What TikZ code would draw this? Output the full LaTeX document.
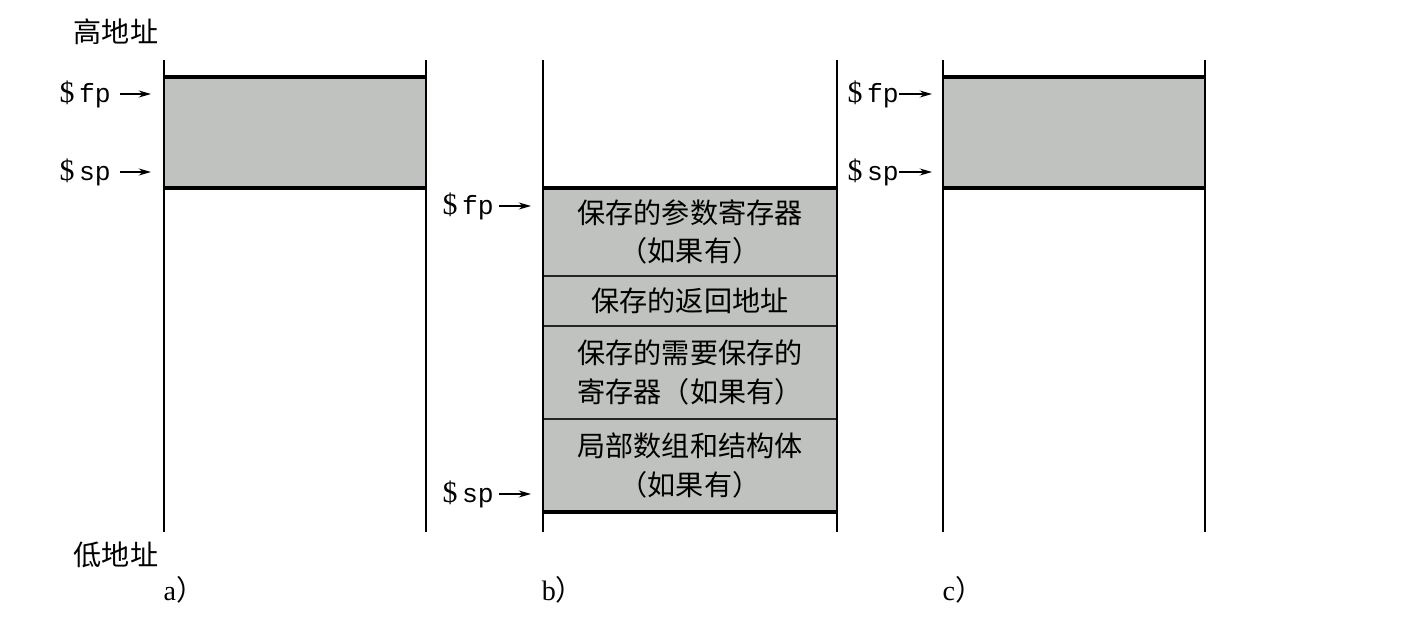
\documentclass[tikz,border=0pt]{standalone}
\usepackage{fontspec}
\setmainfont{Liberation Serif}
\setmonofont{Liberation Mono}
\newfontfamily\cjk{Noto Sans CJK SC}
\usetikzlibrary{positioning,arrows.meta}
\definecolor{stackgray}{HTML}{C0C2BF}

\begin{document}
\begin{tikzpicture}[x=0.02cm, y=-0.02cm,
		cellnode/.style={rectangle, draw=black!85, line width=0.8pt, fill=stackgray, minimum width=5.88cm, inner sep=0pt, outer sep=0pt, align=center, font=\cjk\fontsize{16}{22}\selectfont},
		framenode/.style={rectangle, fill=stackgray, minimum width=5.24cm, minimum height=2.22cm, inner sep=0pt, outer sep=0pt},
		ptrnode/.style={anchor=east, inner sep=0pt, font=\fontsize{15}{18}\selectfont},
		textnode/.style={inner sep=0pt, font=\cjk\fontsize{16}{18}\selectfont},
		ptr/.style={-{Stealth[length=7pt, width=4pt]}, line width=0.8pt},
		wall/.style={line width=0.8pt},
		edge/.style={line width=2pt},
	]
		\useasboundingbox (0,0) rectangle (1408,628);

		% a)
		\node[framenode] (topA) at (295,132.5) {};
		\draw[wall] (164,60) -- (164,532);
		\draw[wall] (426,60) -- (426,532);
		\draw[edge] (topA.north west) -- (topA.north east);
		\draw[edge] (topA.south west) -- (topA.south east);
		\node[ptrnode] (fpA) at (111,94) {{\fontsize{17}{18}\selectfont\$}\,\texttt{fp}};
		\node[ptrnode] (spA) at (111,172) {{\fontsize{17}{18}\selectfont\$}\,\texttt{sp}};
		\coordinate (fpAtip) at (151,94);
		\coordinate (spAtip) at (151,172);
		\draw[ptr] ([xshift=5pt]fpA.east) -- (fpAtip);
		\draw[ptr] ([xshift=5pt]spA.east) -- (spAtip);
		\node[textnode] (high) at (116,32) {高地址};
		\node[textnode] (low) at (116,555) {低地址};
		\node[textnode] (capA) at (184,590) {{\rmfamily a}）};

		% b)
		\node[cellnode, minimum height=1.76cm] (args) at (690,232) {保存的参数寄存器\\（如果有）};
		\node[cellnode, minimum height=1.00cm] (ret) [below=0pt of args] {保存的返回地址};
		\node[cellnode, minimum height=1.86cm] (saved) [below=0pt of ret] {保存的需要保存的\\寄存器（如果有）};
		\node[cellnode, minimum height=1.86cm] (local) [below=0pt of saved] {局部数组和结构体\\（如果有）};
		\draw[wall] (543,60) -- (543,532);
		\draw[wall] (837,60) -- (837,532);
		\draw[edge] (args.north west) -- (args.north east);
		\draw[edge] (local.south west) -- (local.south east);
		\node[ptrnode] (fpB) at (494,206) {{\fontsize{17}{18}\selectfont\$}\,\texttt{fp}};
		\node[ptrnode] (spB) at (494,494) {{\fontsize{17}{18}\selectfont\$}\,\texttt{sp}};
		\coordinate (fpBtip) at (531,206);
		\coordinate (spBtip) at (531,494);
		\draw[ptr] ([xshift=3pt]fpB.east) -- (fpBtip);
		\draw[ptr] ([xshift=3pt]spB.east) -- (spBtip);
		\node[textnode] (capB) at (563,590) {{\rmfamily b}）};

		% c)
		\node[framenode] (topC) at (1074,132.5) {};
		\draw[wall] (943,60) -- (943,532);
		\draw[wall] (1205,60) -- (1205,532);
		\draw[edge] (topC.north west) -- (topC.north east);
		\draw[edge] (topC.south west) -- (topC.south east);
		\node[ptrnode] (fpC) at (899,94) {{\fontsize{17}{18}\selectfont\$}\,\texttt{fp}};
		\node[ptrnode] (spC) at (899,172) {{\fontsize{17}{18}\selectfont\$}\,\texttt{sp}};
		\coordinate (fpCtip) at (932,94);
		\coordinate (spCtip) at (932,172);
		\draw[ptr] (fpC.east) -- (fpCtip);
		\draw[ptr] (spC.east) -- (spCtip);
		\node[textnode] (capC) at (963,590) {{\rmfamily c}）};
	\end{tikzpicture}
\end{document}
